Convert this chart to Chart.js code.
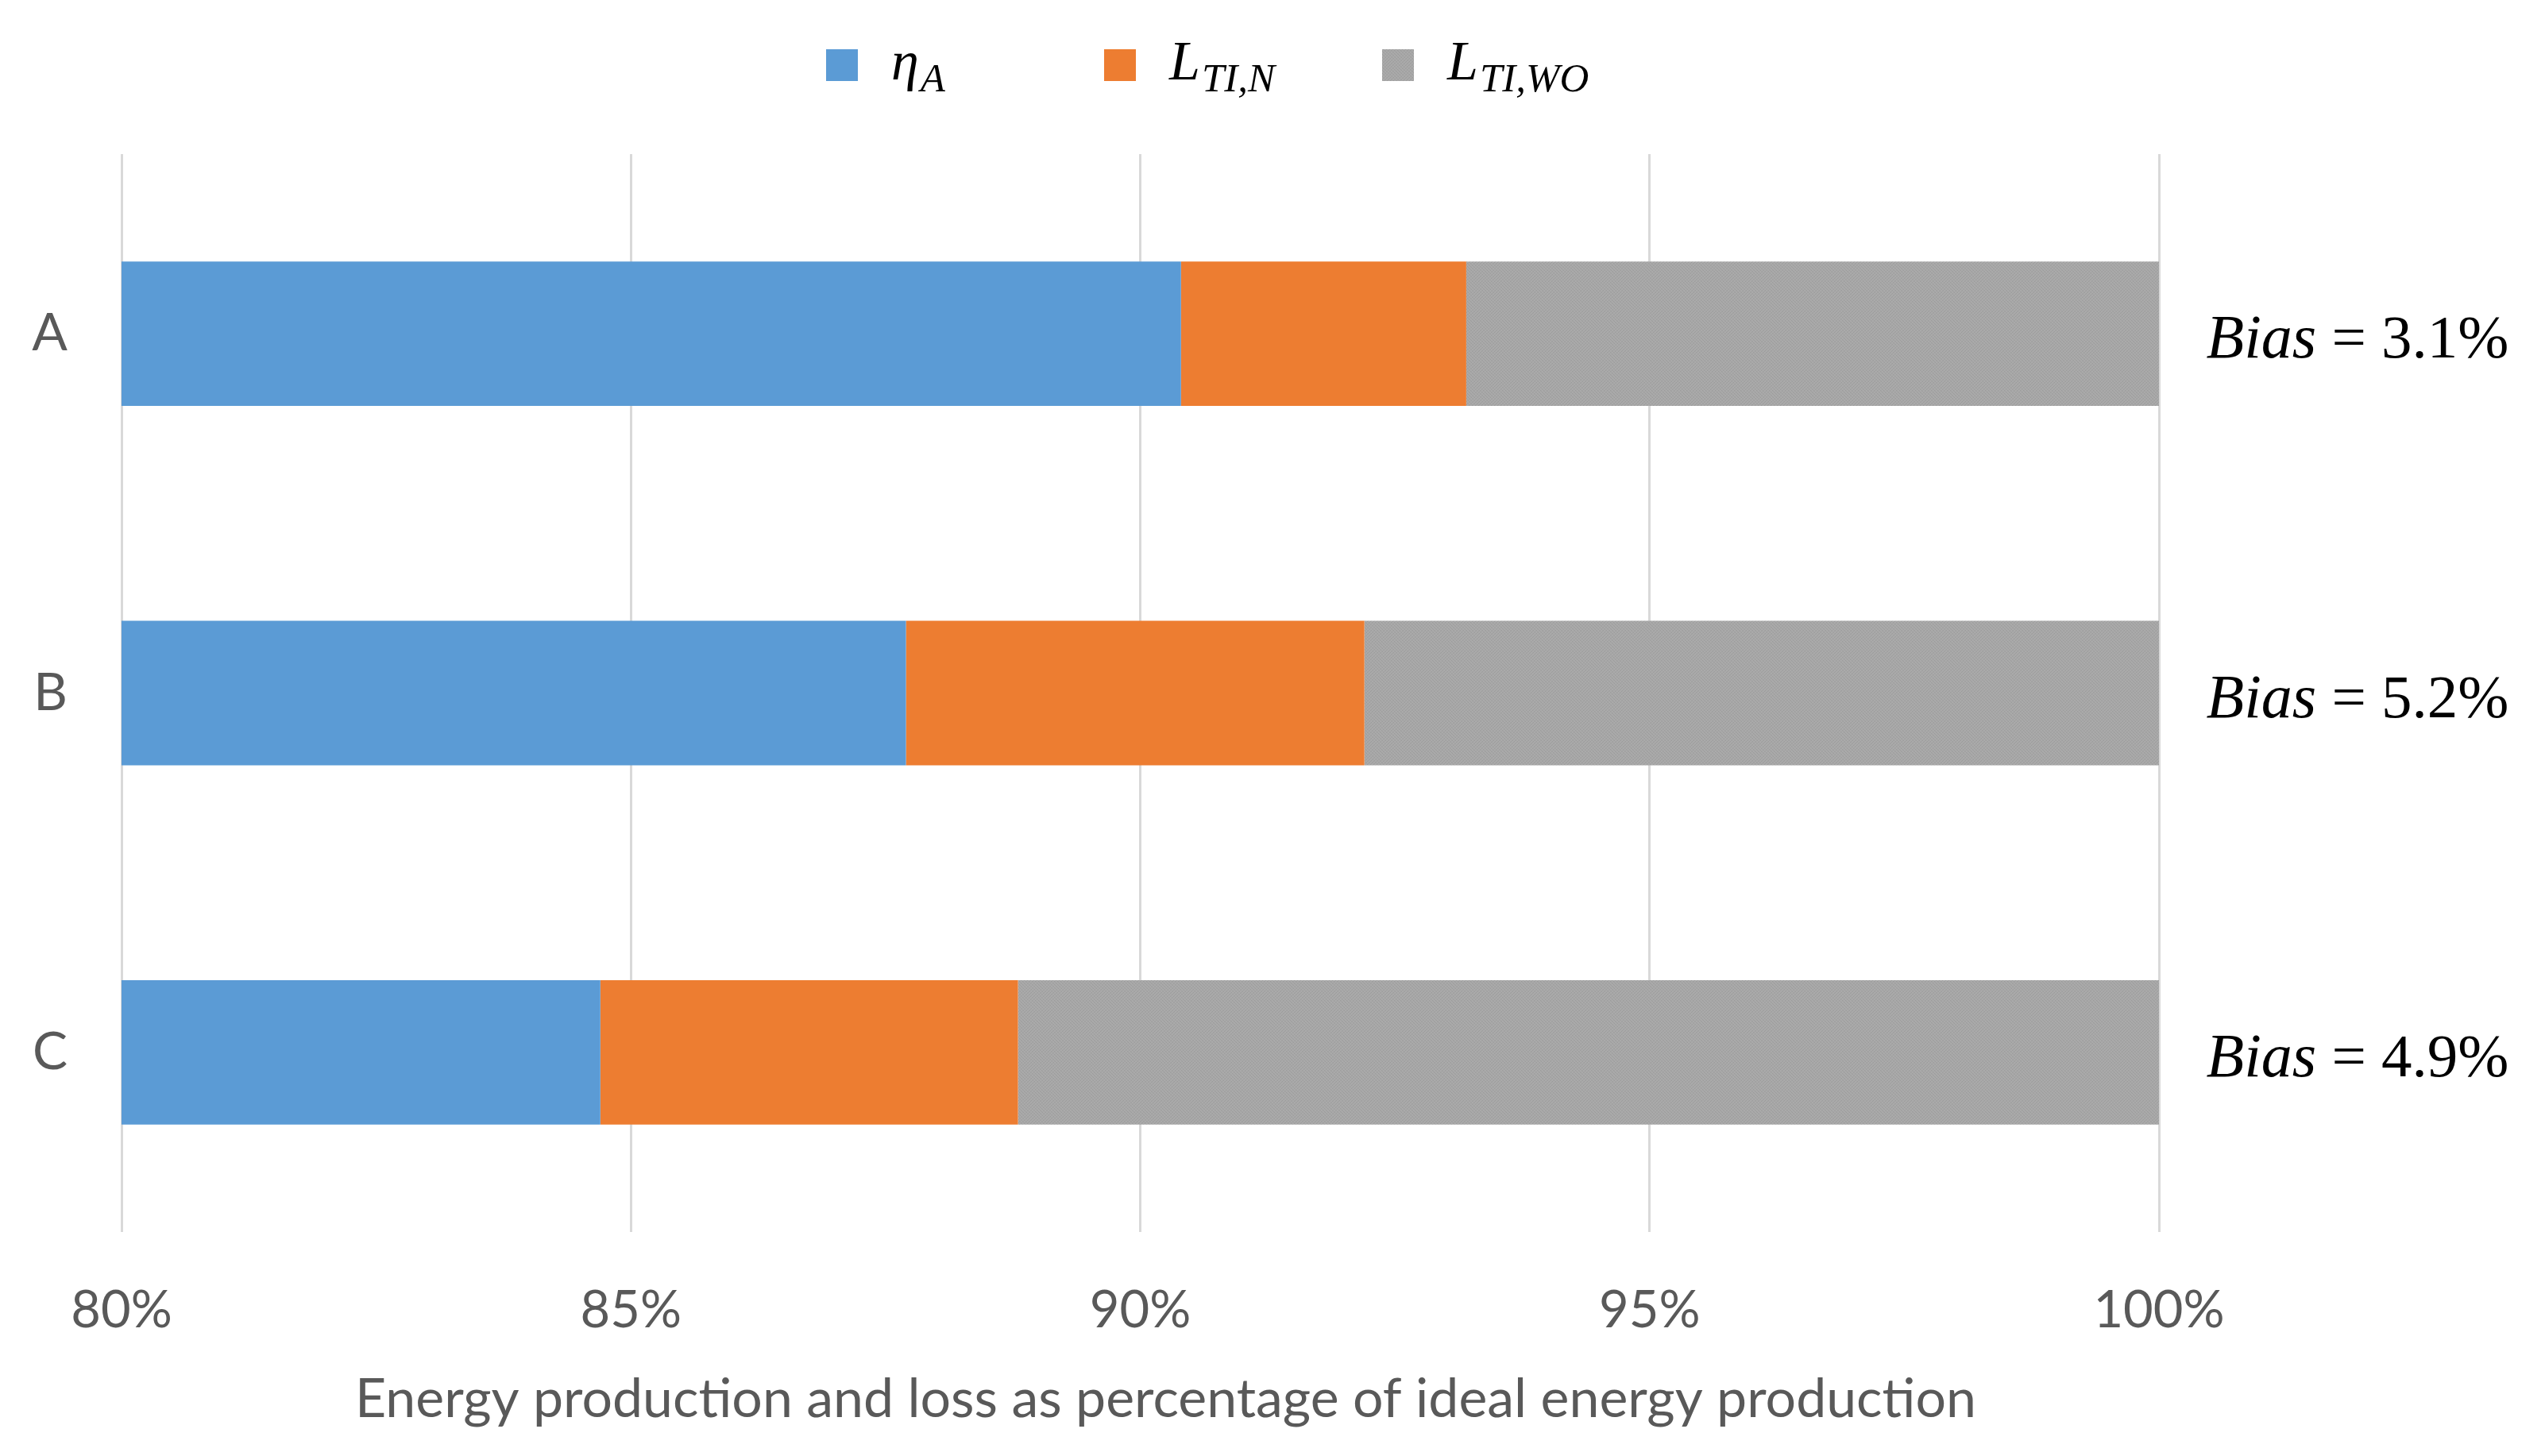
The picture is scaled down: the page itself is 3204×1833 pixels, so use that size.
<!DOCTYPE html>
<html>
<head>
<meta charset="utf-8">
<script src="https://cdn.jsdelivr.net/npm/chart.js@4.4.1/dist/chart.umd.min.js"></script>
<style>
  html, body { margin: 0; padding: 0; background: #fff; }
  #wrap { width: 3204px; height: 1833px; }
</style>
</head>
<body>
<div id="wrap"><canvas id="chart"></canvas></div>
<script>
// data (percent of ideal energy production)
const sites = ['A', 'B', 'C'];
const etaA = [90.4, 87.7, 84.7];
const lossN = [2.8, 4.5, 4.1];
const lossWO = [6.8, 7.8, 11.2];
const biasPct = ['3.1', '5.2', '4.9'];
const xMin = 80, xMax = 100, xStep = 5;
const legendMain = ['η', 'L', 'L'];
const legendSub = ['A', 'TI,N', 'TI,WO'];
const axisTitle = 'Energy production and loss as percentage of ideal energy production';

const textGray = '#595959';
const axisFont = 'Lato';
const mathFont = '"Liberation Serif"';

// dotted gray fill like the excel pattern
function grayPattern() {
  const pc = document.createElement('canvas');
  pc.width = 4; pc.height = 4;
  const p = pc.getContext('2d');
  p.fillStyle = '#aaaaaa';
  p.fillRect(0, 0, 4, 4);
  p.fillStyle = '#9a9a9a';
  p.fillRect(0, 0, 1, 1); p.fillRect(2, 1, 1, 1);
  p.fillRect(1, 2, 1, 1); p.fillRect(3, 3, 1, 1);
  return p.createPattern(pc, 'repeat');
}

// legend with subscripts, chart.js legend can't do those
const mathLegend = {
  id: 'mathLegend',
  afterDraw(chart) {
    const ctx = chart.ctx;
    const startX = 1040, stepX = 350, box = 40, cy = 82;
    ctx.save();
    chart.data.datasets.forEach((ds, i) => {
      const x = startX + i * stepX;
      ctx.fillStyle = ds.backgroundColor;
      ctx.fillRect(x, cy - box / 2, box, box);
      ctx.fillStyle = '#000';
      ctx.textBaseline = 'alphabetic';
      ctx.textAlign = 'left';
      ctx.font = 'italic 70px ' + mathFont;
      const tx = x + 82;
      ctx.fillText(legendMain[i], tx, 100);
      const w = ctx.measureText(legendMain[i]).width;
      ctx.font = 'italic 51px ' + mathFont;
      ctx.fillText(legendSub[i], tx + w + 2, 115);
    });
    ctx.restore();
  }
};

// "Bias = x%" on the right of each bar, plus the x axis title
const extraText = {
  id: 'extraText',
  afterDatasetsDraw(chart) {
    const { ctx, chartArea, scales } = chart;
    ctx.save();
    ctx.fillStyle = '#000';
    ctx.textBaseline = 'alphabetic';
    ctx.textAlign = 'left';
    sites.forEach((s, i) => {
      const cy = scales.y.getPixelForValue(i);
      const cx = chartArea.right + 250;
      const rest = ' = ' + biasPct[i] + '%';
      ctx.font = 'italic 78px ' + mathFont;
      const w1 = ctx.measureText('Bias').width;
      ctx.font = '77px ' + mathFont;
      const w2 = ctx.measureText(rest).width;
      const x0 = cx - (w1 + w2) / 2;
      ctx.font = 'italic 78px ' + mathFont;
      ctx.fillText('Bias', x0, cy + 30);
      ctx.font = '77px ' + mathFont;
      ctx.fillText(rest, x0 + w1, cy + 30);
    });

    // axis title sits a little right of the plot centre in the original
    ctx.fillStyle = textGray;
    ctx.textAlign = 'center';
    ctx.font = '68px ' + axisFont;
    ctx.fillText(axisTitle, (chartArea.left + chartArea.right) / 2 + 32, 1784);
    ctx.restore();
  }
};

const ctx = document.getElementById('chart').getContext('2d');
const gray = grayPattern();

new Chart(ctx, {
  type: 'bar',
  data: {
    labels: sites,
    datasets: [
      { label: 'ηA', data: etaA, backgroundColor: '#5b9bd5' },
      { label: 'LTI,N', data: lossN, backgroundColor: '#ed7d31' },
      { label: 'LTI,WO', data: lossWO, backgroundColor: gray }
    ]
  },
  options: {
    indexAxis: 'y',
    responsive: true,
    maintainAspectRatio: false,
    animation: false,
    layout: { padding: { top: 194, right: 486, bottom: 0, left: 0 } },
    datasets: {
      bar: { barPercentage: 0.402, categoryPercentage: 1, borderWidth: 0 }
    },
    plugins: {
      legend: { display: false },
      tooltip: { enabled: false }
    },
    scales: {
      x: {
        type: 'linear',
        stacked: true,
        min: xMin,
        max: xMax,
        afterFit: (scale) => { scale.height = 282; },
        ticks: {
          stepSize: xStep,
          callback: (v) => v + '%',
          font: { family: axisFont, size: 65 },
          color: textGray,
          padding: 60,
          maxRotation: 0
        },
        grid: { color: '#d9d9d9', lineWidth: 3, drawTicks: false },
        border: { display: false }
      },
      y: {
        stacked: true,
        afterFit: (scale) => { scale.width = 153; },
        ticks: {
          font: { family: axisFont, size: 66 },
          color: textGray,
          padding: 60
        },
        grid: { display: false },
        border: { display: false }
      }
    }
  },
  plugins: [mathLegend, extraText]
});
</script>
</body>
</html>
